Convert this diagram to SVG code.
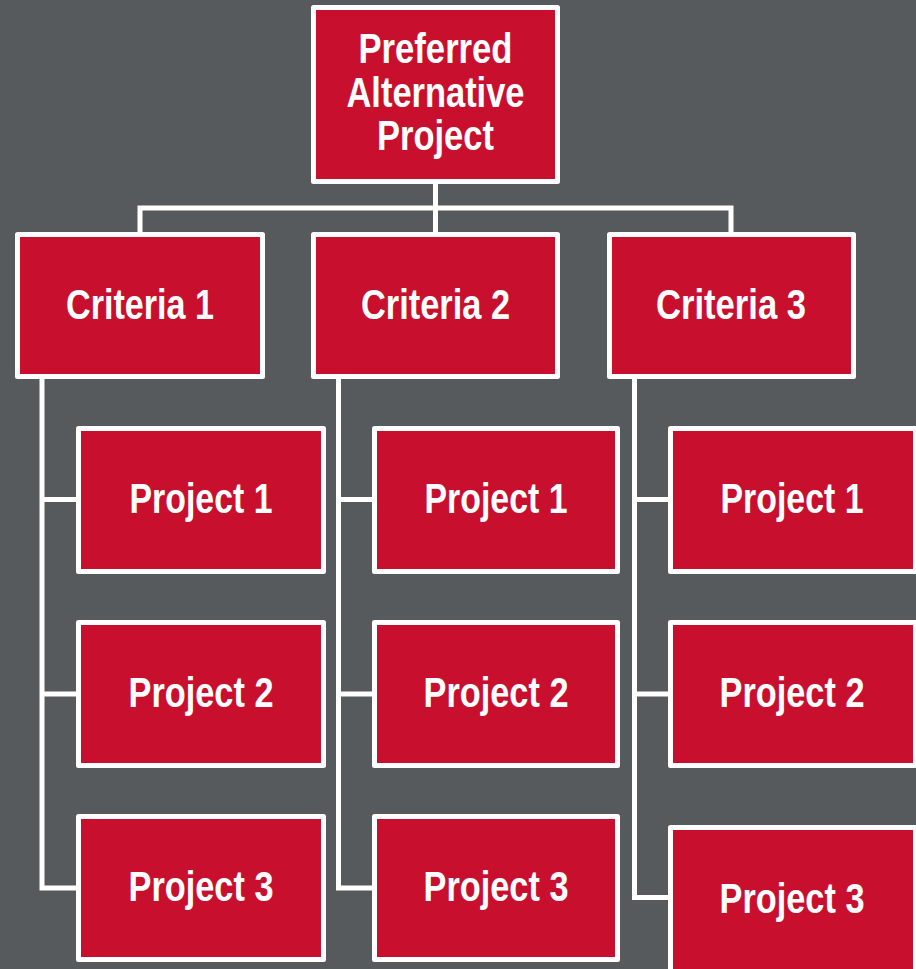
<svg xmlns="http://www.w3.org/2000/svg" width="916" height="969" viewBox="0 0 916 969">
<style>
.box{fill:#c8102e;stroke:#ffffff;stroke-width:5;stroke-linejoin:round}
.lbl{font-family:"Liberation Sans",Arial,sans-serif;font-weight:bold;font-size:42px;fill:#ffffff;text-anchor:middle}
.con{fill:none;stroke:#ffffff;stroke-width:5;stroke-linejoin:miter;stroke-linecap:butt}
</style>
<rect x="0" y="0" width="916" height="969" fill="#575a5d"/>
<g id="connectors">
<path class="con" d="M435.5 184 V208"/>
<path class="con" d="M140 234 V208 H731 V234"/>
<path class="con" d="M435.5 208 V234"/>
<path class="con" d="M42 379 V888 H76"/>
<path class="con" d="M42 499.5 H76 M42 694 H76"/>
<path class="con" d="M338.5 379 V888 H372"/>
<path class="con" d="M338.5 499.5 H372 M338.5 694 H372"/>
<path class="con" d="M634.5 379 V897.5 H668"/>
<path class="con" d="M634.5 499.5 H668 M634.5 694 H668"/>
</g>
<g id="root">
<rect class="box" x="313.5" y="7.5" width="244" height="174"/>
<text class="lbl" x="435.5" y="63" textLength="154" lengthAdjust="spacingAndGlyphs">Preferred</text>
<text class="lbl" x="435.5" y="107" textLength="178" lengthAdjust="spacingAndGlyphs">Alternative</text>
<text class="lbl" x="435.5" y="150" textLength="117" lengthAdjust="spacingAndGlyphs">Project</text>
</g>
<g id="criteria1">
<rect class="box" x="17.5" y="234.5" width="245" height="142"/>
<text class="lbl" x="140" y="319" textLength="148" lengthAdjust="spacingAndGlyphs">Criteria 1</text>
</g>
<g id="criteria2">
<rect class="box" x="313.5" y="234.5" width="244" height="142"/>
<text class="lbl" x="435.5" y="319" textLength="149" lengthAdjust="spacingAndGlyphs">Criteria 2</text>
</g>
<g id="criteria3">
<rect class="box" x="609.5" y="234.5" width="244" height="142"/>
<text class="lbl" x="731" y="319" textLength="150" lengthAdjust="spacingAndGlyphs">Criteria 3</text>
</g>
<g id="c1p1">
<rect class="box" x="78.5" y="428.5" width="245" height="143"/>
<text class="lbl" x="201" y="513" textLength="143" lengthAdjust="spacingAndGlyphs">Project 1</text>
</g>
<g id="c1p2">
<rect class="box" x="78.5" y="622.5" width="245" height="143"/>
<text class="lbl" x="201" y="707" textLength="145" lengthAdjust="spacingAndGlyphs">Project 2</text>
</g>
<g id="c1p3">
<rect class="box" x="78.5" y="816.5" width="245" height="143"/>
<text class="lbl" x="201" y="901" textLength="145" lengthAdjust="spacingAndGlyphs">Project 3</text>
</g>
<g id="c2p1">
<rect class="box" x="374.5" y="428.5" width="243" height="143"/>
<text class="lbl" x="496" y="513" textLength="143" lengthAdjust="spacingAndGlyphs">Project 1</text>
</g>
<g id="c2p2">
<rect class="box" x="374.5" y="622.5" width="243" height="143"/>
<text class="lbl" x="496" y="707" textLength="145" lengthAdjust="spacingAndGlyphs">Project 2</text>
</g>
<g id="c2p3">
<rect class="box" x="374.5" y="816.5" width="243" height="143"/>
<text class="lbl" x="496" y="901" textLength="145" lengthAdjust="spacingAndGlyphs">Project 3</text>
</g>
<g id="c3p1">
<rect class="box" x="670.5" y="428.5" width="245" height="143"/>
<text class="lbl" x="792" y="513" textLength="143" lengthAdjust="spacingAndGlyphs">Project 1</text>
</g>
<g id="c3p2">
<rect class="box" x="670.5" y="622.5" width="245" height="143"/>
<text class="lbl" x="792" y="707" textLength="145" lengthAdjust="spacingAndGlyphs">Project 2</text>
</g>
<g id="c3p3">
<rect class="box" x="670.5" y="827.5" width="245" height="146"/>
<text class="lbl" x="792" y="913" textLength="145" lengthAdjust="spacingAndGlyphs">Project 3</text>
</g>
</svg>
